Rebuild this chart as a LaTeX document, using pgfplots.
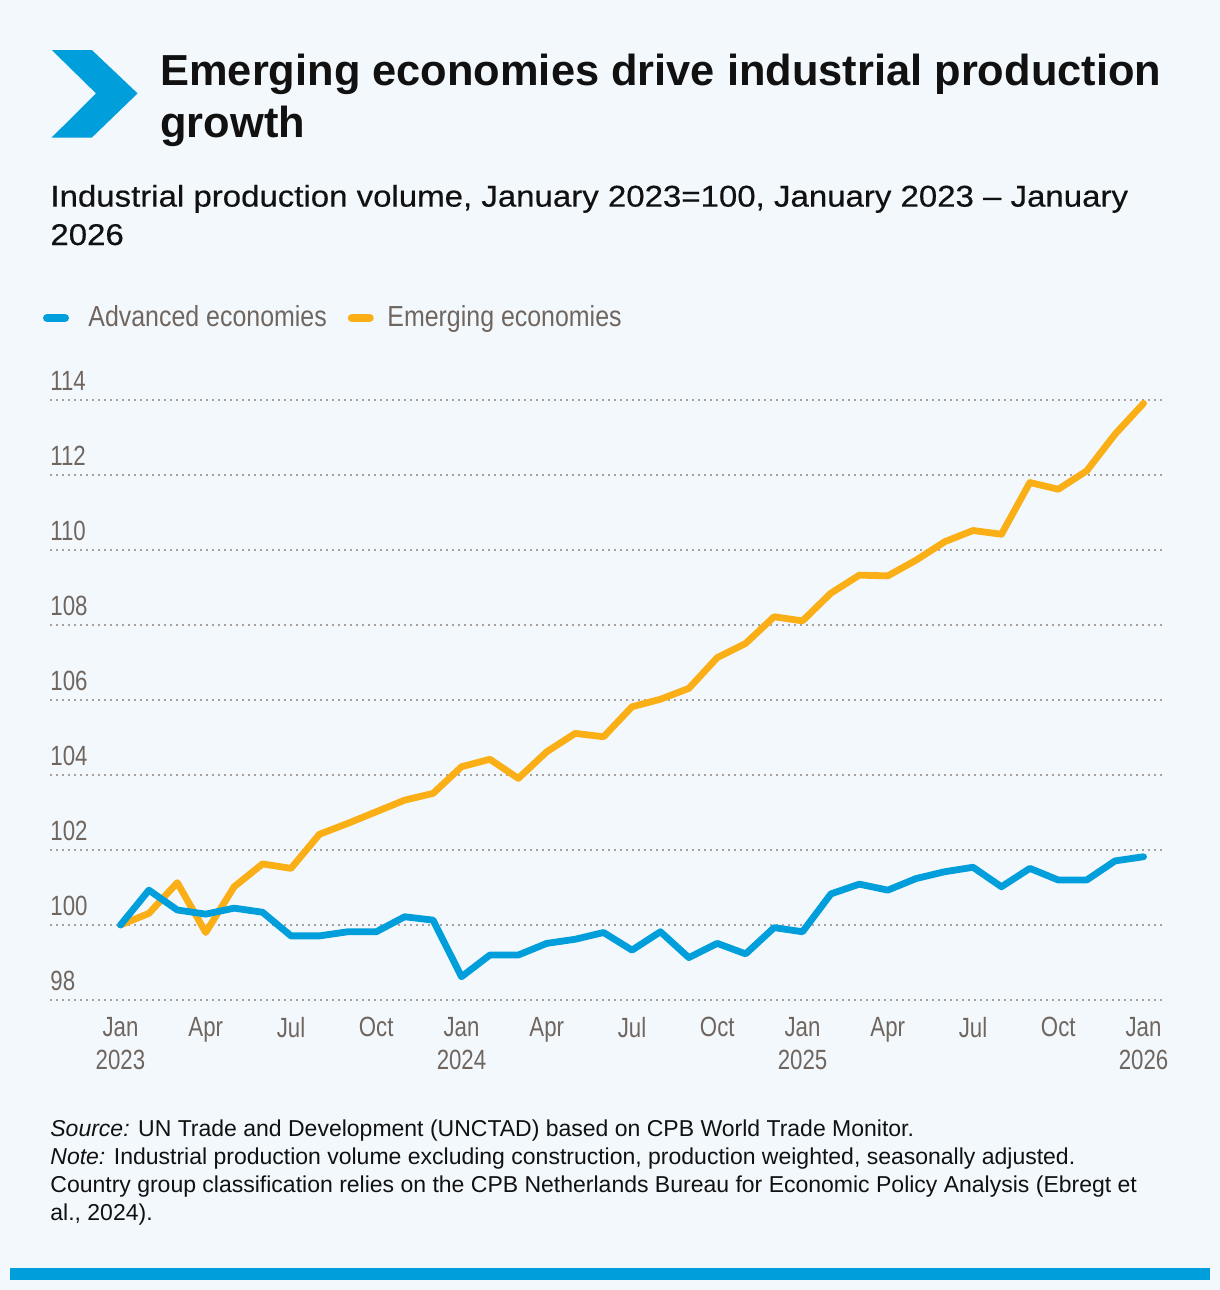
\documentclass[border=0pt]{standalone}
\usepackage{fontspec}
\setmainfont{Liberation Sans}
\newfontfamily\tickfont[FakeStretch=0.80]{Liberation Sans}
\newfontfamily\legfont[FakeStretch=0.86]{Liberation Sans}
\newfontfamily\subfont[FakeStretch=1.1,FakeBold=0.4,Ligatures=TeX]{Liberation Sans}
\usepackage{pgfplots}
\pgfplotsset{compat=1.18}
\definecolor{bgc}{HTML}{F3F8FC}
\definecolor{unblue}{HTML}{009EDB}
\definecolor{unorange}{HTML}{FBAF17}
\definecolor{tickgray}{HTML}{706660}
\definecolor{gridgray}{HTML}{A8A29E}
\definecolor{txt}{HTML}{111111}
\begin{document}
\begin{tikzpicture}
\fill[bgc] (0,0) rectangle (610pt,-645pt);
\useasboundingbox (0,0) rectangle (610pt,-645pt);
% logo chevron
\fill[unblue] (25.9pt,-25pt) -- (45.9pt,-25pt) -- (68.8pt,-46.7pt) -- (45.9pt,-68.8pt) -- (25.8pt,-68.8pt) -- (48pt,-46.7pt) -- cycle;
% title
\node[anchor=base west, inner sep=0pt, font=\fontsize{21.7}{24}\selectfont\bfseries, text=txt] at (80pt,-42.5pt) {Emerging economies drive industrial production};
\node[anchor=base west, inner sep=0pt, font=\fontsize{21.7}{24}\selectfont\bfseries, text=txt] at (80pt,-68.6pt) {growth};
% subtitle
\node[anchor=base west, inner sep=0pt, font=\subfont\fontsize{15}{17}\selectfont, text=txt] at (25pt,-103.3pt) {Industrial production volume, January 2023=100, January 2023 – January};
\node[anchor=base west, inner sep=0pt, font=\subfont\fontsize{15}{17}\selectfont, text=txt] at (25pt,-122.5pt) {2026};
% legend
\draw[unblue, line width=4.2pt, line cap=round] (23.6pt,-159pt) -- (32.4pt,-159pt);
\node[anchor=base west, inner sep=0pt, font=\legfont\fontsize{14.5}{17}\selectfont, text=tickgray] at (44pt,-163.3pt) {Advanced economies};
\draw[unorange, line width=4.2pt, line cap=round] (176pt,-159pt) -- (184.8pt,-159pt);
\node[anchor=base west, inner sep=0pt, font=\legfont\fontsize{14.5}{17}\selectfont, text=tickgray] at (193.5pt,-163.3pt) {Emerging economies};
\begin{axis}[
  at={(25pt,-500pt)}, anchor=south west,
  scale only axis, width=556pt, height=300pt,
  xmin=-2.48, xmax=36.65, ymin=98, ymax=114,
  clip=false,
  axis line style={draw=none},
  major tick length=0pt,
  tick style={draw=none},
  ymajorgrids,
  grid style={dash pattern=on 1pt off 2pt, line width=1pt, gridgray},
  ytick={98,100,...,114},
  xtick={0,3,...,36},
  xticklabels={{Jan\\2023},Apr,Jul,Oct,{Jan\\2024},Apr,Jul,Oct,{Jan\\2025},Apr,Jul,Oct,{Jan\\2026}},
  /pgf/number format/assume math mode=true,
  yticklabel style={anchor=base west, inner sep=0pt, yshift=5pt, font=\tickfont\fontsize{13.9}{16.5}\selectfont, text=tickgray},
  xticklabel style={anchor=north, align=center, inner sep=0pt, yshift=-8.5pt, font=\tickfont\fontsize{13.9}{16.5}\selectfont, text=tickgray},
]
\addplot[unorange, line width=3.4pt, line join=round, line cap=round] coordinates {
(0,100.0) (1,100.31) (2,101.13) (3,99.8) (4,101.02) (5,101.63) (6,101.51) (7,102.42) (8,102.71) (9,103.02) (10,103.33) (11,103.51)
(12,104.22) (13,104.42) (14,103.91) (15,104.62) (16,105.11) (17,105.02) (18,105.82) (19,106.02) (20,106.31) (21,107.13) (22,107.51) (23,108.22)
(24,108.11) (25,108.85) (26,109.33) (27,109.31) (28,109.73) (29,110.22) (30,110.52) (31,110.42) (32,111.8) (33,111.62) (34,112.11) (35,113.09) (36,113.91)
};
\addplot[unblue, line width=3.4pt, line join=round, line cap=round] coordinates {
(0,100.0) (1,100.93) (2,100.4) (3,100.29) (4,100.45) (5,100.34) (6,99.71) (7,99.71) (8,99.82) (9,99.82) (10,100.22) (11,100.13)
(12,98.62) (13,99.2) (14,99.2) (15,99.51) (16,99.62) (17,99.8) (18,99.33) (19,99.82) (20,99.13) (21,99.51) (22,99.23) (23,99.93)
(24,99.82) (25,100.83) (26,101.09) (27,100.93) (28,101.24) (29,101.42) (30,101.54) (31,101.02) (32,101.51) (33,101.2) (34,101.2) (35,101.71) (36,101.82)
};
\end{axis}
% notes
\node[anchor=base west, inner sep=0pt, font=\fontsize{11.5}{14}\selectfont, text=txt] at (25pt,-568pt) {\textit{Source:} UN Trade and Development (UNCTAD) based on CPB World Trade Monitor.};
\node[anchor=base west, inner sep=0pt, font=\fontsize{11.5}{14}\selectfont, text=txt] at (25pt,-582pt) {\textit{Note:} Industrial production volume excluding construction, production weighted, seasonally adjusted.};
\node[anchor=base west, inner sep=0pt, font=\fontsize{11.5}{14}\selectfont, text=txt] at (25pt,-596pt) {Country group classification relies on the CPB Netherlands Bureau for Economic Policy Analysis (Ebregt et};
\node[anchor=base west, inner sep=0pt, font=\fontsize{11.5}{14}\selectfont, text=txt] at (25pt,-610pt) {al., 2024).};
% bottom bar
\fill[unblue] (5pt,-634pt) rectangle (605pt,-640pt);
\end{tikzpicture}
\end{document}
